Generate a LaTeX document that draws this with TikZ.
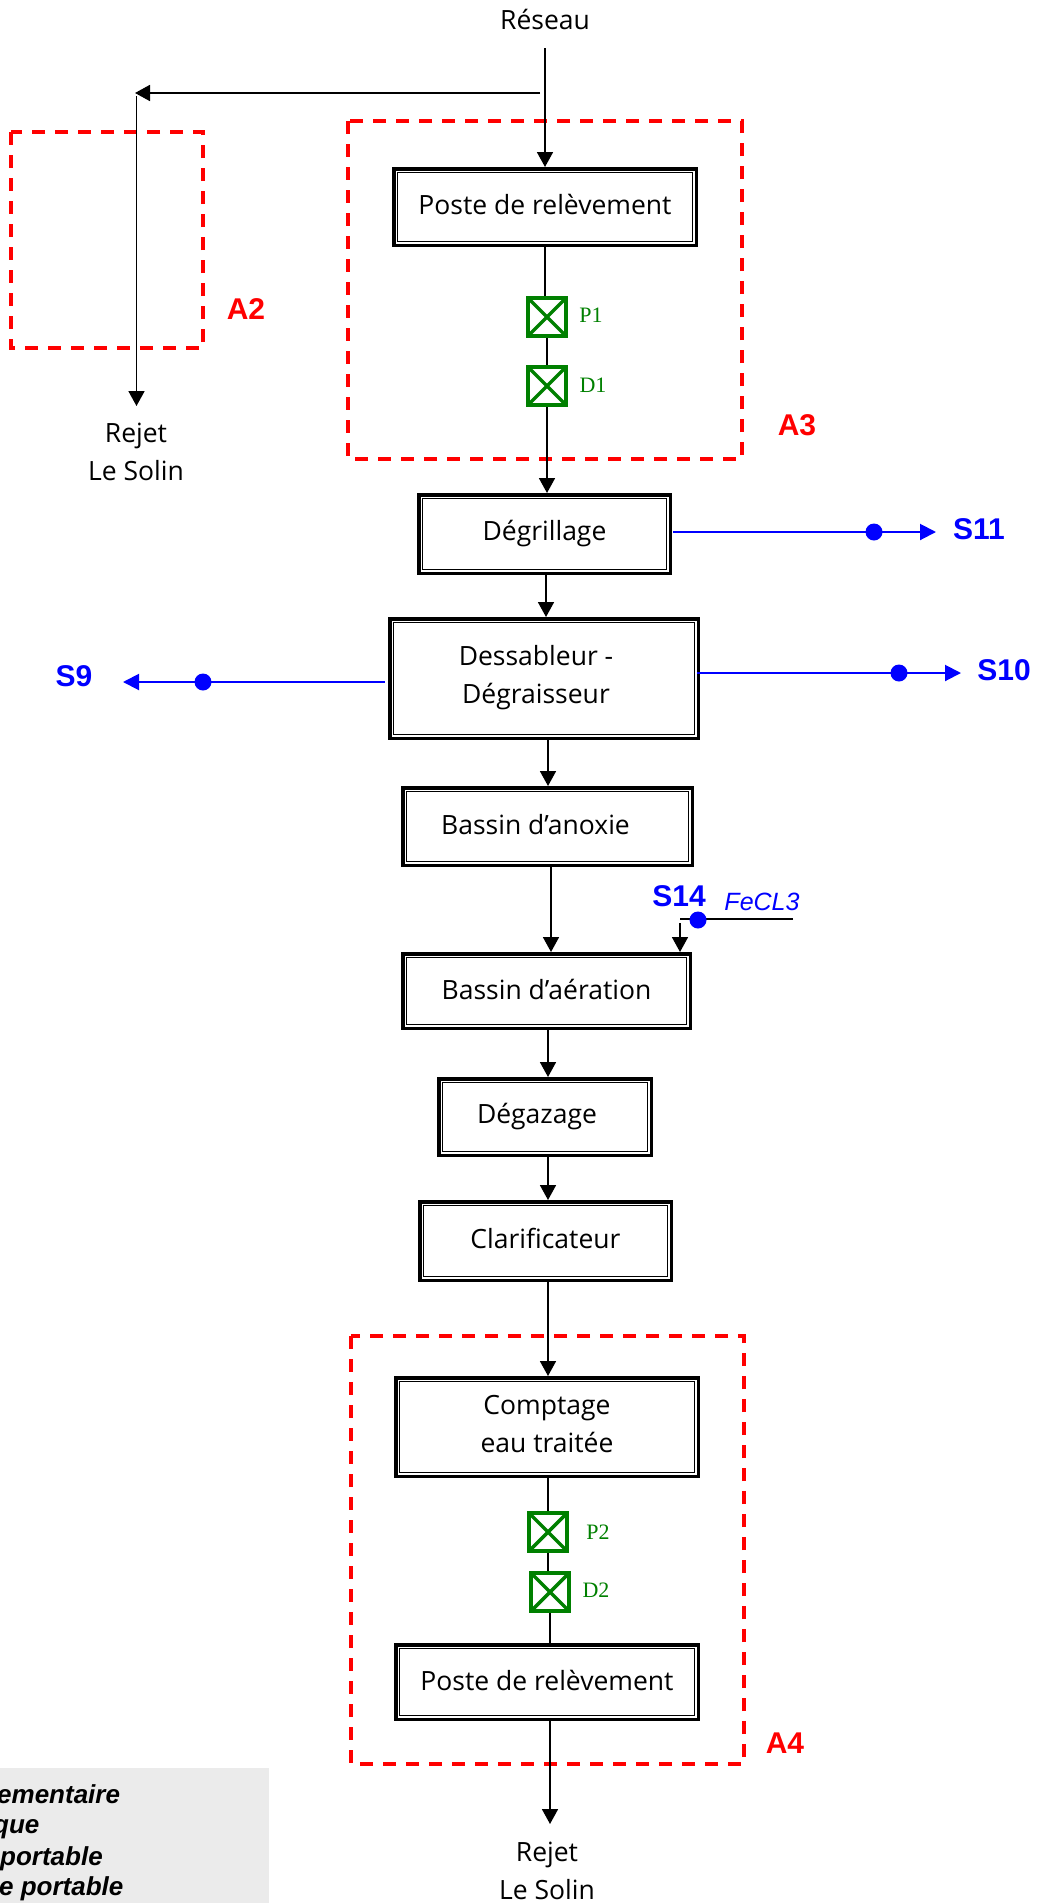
\documentclass[tikz,border=0pt]{standalone}
\usepackage{fontspec}
\setmainfont{Liberation Sans}
\newfontfamily\flowfont{Open Sans}
\usetikzlibrary{arrows.meta}
\definecolor{sensorgreen}{RGB}{0,128,0}
\definecolor{notegray}{RGB}{235,235,235}
\begin{document}
\begin{tikzpicture}[x=1pt,y=-1pt,
  txt/.style={font=\flowfont\fontsize{26.5}{30}\selectfont,inner sep=0pt},
  procbox/.style={outer sep=5.2pt,inner sep=0pt,font=\flowfont\fontsize{26.5}{30}\selectfont,
    preaction={draw,line width=10.4pt},preaction={fill=white},preaction={draw=white,line width=3.4pt},draw,line width=1pt},
  flow/.style={draw,line width=1.8pt,-{Triangle[length=15pt,width=16pt]}},
  plain/.style={draw,line width=1.6pt},
  blueflow/.style={draw=blue,line width=2pt,-{Triangle[length=16pt,width=16pt]}},
  bluedot/.style={circle,fill=blue,minimum size=17pt,inner sep=0pt},
  bluelab/.style={text=blue,font=\bfseries\fontsize{30}{34}\selectfont,inner sep=0pt},
  redlab/.style={text=red,font=\bfseries\fontsize{30}{34}\selectfont,inner sep=0pt},
  zone/.style={draw=red,line width=3.5pt,dash pattern=on 13pt off 10pt},
  sensor/.style={draw=sensorgreen,fill=white,line width=4pt,minimum size=38pt,inner sep=0pt,
    path picture={\draw[sensorgreen,line width=3.5pt] (path picture bounding box.north west) -- (path picture bounding box.south east)
      (path picture bounding box.north east) -- (path picture bounding box.south west);}},
  sensorlab/.style={text=sensorgreen,font=\fontspec{Liberation Serif}\fontsize{22}{26}\selectfont,inner sep=0pt},
  notetxt/.style={anchor=base west,font=\bfseries\itshape\fontsize{26}{30}\selectfont,inner sep=0pt}]
\path[use as bounding box,clip] (0,0) rectangle (1036,1903);
\fill[notegray] (0,1768) rectangle (269,1903);
\node[notetxt] (note1) at (-3,1803) {ementaire};
\node[notetxt] (note2) at (-7,1833) {que};
\node[notetxt] (note3) at (0,1865) {portable};
\node[notetxt] (note4) at (-1,1895) {e portable};
\draw[zone] (11,132) rectangle (203,348);
\draw[zone] (348,121) rectangle (742,459);
\draw[zone] (351,1336) rectangle (744,1764);
\node[redlab] (a2) at (246,309) {A2};
\node[redlab] (a3) at (797,425) {A3};
\node[redlab] (a4) at (785,1743) {A4};
\node[txt] (reseau) at (545,19) {Réseau};
\node[txt,align=center] (rejet1) at (136,452) {Rejet\\[8pt]Le Solin};
\node[txt,align=center] (rejet2) at (547,1871) {Rejet\\[8pt]Le Solin};
\node[procbox,minimum width=295.6pt,minimum height=69.6pt] (poste1) at (545,207) {\raisebox{5pt}{Poste de relèvement}};
\node[sensor] (p1) at (547,317) {};
\node[sensor] (d1) at (547,386) {};
\node[sensorlab] (p1lab) at (591,315) {P1};
\node[sensorlab] (d1lab) at (593,385) {D1};
\node[procbox,minimum width=244.6pt,minimum height=71.6pt] (degrillage) at (544.5,534) {\raisebox{-2pt}{Dégrillage}};
\node[procbox,minimum width=301.6pt,minimum height=112.6pt] (dessableur) at (544,678.5) {\hspace*{-16pt}\begin{tabular}{@{}c@{}}Dessableur -\\[8pt]Dégraisseur\end{tabular}};
\node[procbox,minimum width=282.6pt,minimum height=70.6pt] (anoxie) at (547.5,826.5) {\hspace*{-24pt}\raisebox{5pt}{Bassin d’anoxie}};
\node[procbox,minimum width=280.6pt,minimum height=67.6pt] (aeration) at (546.5,991) {\raisebox{4pt}{Bassin d’aération}};
\node[procbox,minimum width=205.6pt,minimum height=69.6pt] (degazage) at (545,1117) {\hspace*{-16pt}\raisebox{4pt}{Dégazage}};
\node[procbox,minimum width=244.6pt,minimum height=71.6pt] (clarif) at (545.5,1241) {\raisebox{6pt}{Clarificateur}};
\node[procbox,minimum width=295.6pt,minimum height=91.6pt] (comptage) at (547,1427) {\raisebox{-4pt}{\begin{tabular}{@{}c@{}}Comptage\\[8pt]eau traitée\end{tabular}}};
\node[sensor] (p2) at (548,1532) {};
\node[sensor] (d2) at (550,1592) {};
\node[sensorlab] (p2lab) at (598,1532) {P2};
\node[sensorlab] (d2lab) at (596,1590) {D2};
\node[procbox,minimum width=295.6pt,minimum height=67.6pt] (poste2) at (547,1682) {\raisebox{4pt}{Poste de relèvement}};
\coordinate (netin) at (545,48);
\coordinate (branch) at (540,93);
\coordinate (tee) at (135,93);
\coordinate (teedown) at (136.5,96);
\coordinate (rejet1top) at (136.5,406);
\coordinate (rejet2top) at (550,1824);
\draw[flow] (netin) -- (netin |- poste1.north);
\draw[flow] (branch) -- (tee);
\draw[flow] (teedown) -- (rejet1top);
\draw[plain] (poste1.south) -- (poste1.south |- p1.north);
\draw[plain] (p1.south) -- (d1.north);
\draw[flow] (d1.south) -- (d1.south |- degrillage.north);
\draw[flow] ([xshift=1.5pt]degrillage.south) -- ([xshift=1.5pt]degrillage.south |- dessableur.north);
\draw[flow] ([xshift=4pt]dessableur.south) -- ([xshift=4pt]dessableur.south |- anoxie.north);
\draw[flow] ([xshift=3.5pt]anoxie.south) -- ([xshift=3.5pt]anoxie.south |- aeration.north);
\draw[flow] ([xshift=1.5pt]aeration.south) -- ([xshift=1.5pt]aeration.south |- degazage.north);
\draw[flow] ([xshift=3pt]degazage.south) -- ([xshift=3pt]degazage.south |- clarif.north);
\draw[flow] ([xshift=2.5pt]clarif.south) -- ([xshift=2.5pt]clarif.south |- comptage.north);
\draw[plain] ([xshift=1pt]comptage.south) -- (p2.north);
\draw[plain] (p2.south) -- (p2.south |- d2.north);
\draw[plain] (d2.south) -- (d2.south |- poste2.north);
\draw[flow] ([xshift=3pt]poste2.south) -- (rejet2top);
\node[bluelab] (s11) at (979,529) {S11};
\node[bluelab] (s10) at (1004,670) {S10};
\node[bluelab] (s9) at (74,676) {S9};
\node[bluelab] (s14) at (679,896) {S14};
\node[text=blue,font=\itshape\fontsize{25}{30}\selectfont,inner sep=0pt] (fecl) at (762,902) {FeCL3};
\coordinate (s11start) at (673,532);
\coordinate (s11end) at (936,532);
\coordinate (s10start) at (697,673);
\coordinate (s10end) at (961,673);
\coordinate (s9start) at (385,682);
\coordinate (s9end) at (123,682);
\draw[blueflow] (s11start) -- (s11end);
\draw[blueflow] (s10start) -- (s10end);
\draw[blueflow] (s9start) -- (s9end);
\node[bluedot] (dot11) at (874,532) {};
\node[bluedot] (dot10) at (899,673) {};
\node[bluedot] (dot9) at (203,682) {};
\coordinate (fecend) at (793,919);
\coordinate (fecturn) at (680,919);
\coordinate (fecdown) at (680,923);
\draw[plain] (fecend) -- (fecturn);
\draw[flow] (fecdown) -- (fecdown |- aeration.north);
\node[bluedot] (dot14) at (698,920) {};
\end{tikzpicture}
\end{document}
